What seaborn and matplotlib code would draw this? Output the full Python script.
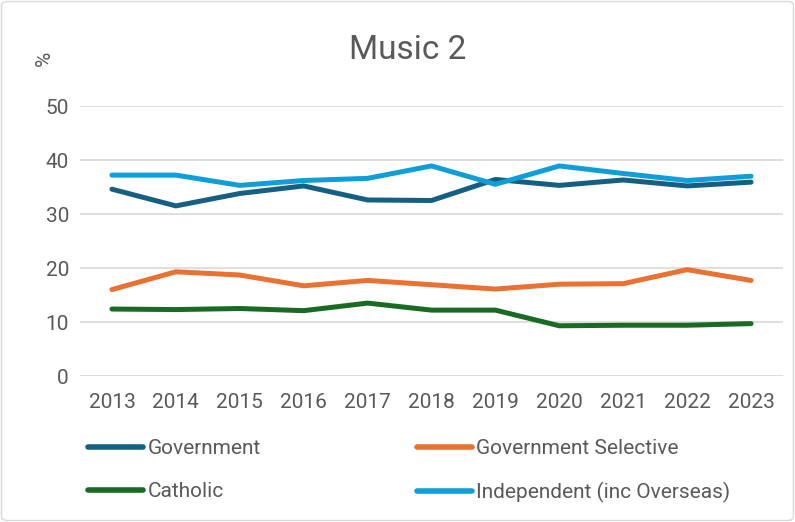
import matplotlib
matplotlib.use("Agg")
import matplotlib.pyplot as plt
from matplotlib.lines import Line2D
from matplotlib.patches import FancyBboxPatch
import seaborn as sns
import pandas as pd

years = ["2013", "2014", "2015", "2016", "2017", "2018", "2019", "2020", "2021", "2022", "2023"]
government = [34.6, 31.5, 33.8, 35.2, 32.6, 32.5, 36.4, 35.3, 36.3, 35.2, 35.9]
government_selective = [16.0, 19.3, 18.7, 16.7, 17.7, 16.9, 16.1, 17.0, 17.1, 19.7, 17.7]
catholic = [12.4, 12.3, 12.5, 12.1, 13.5, 12.2, 12.2, 9.3, 9.4, 9.4, 9.7]
independent = [37.2, 37.2, 35.3, 36.2, 36.6, 38.9, 35.5, 38.9, 37.5, 36.2, 37.0]

series_names = ["Government", "Government Selective", "Catholic", "Independent (inc Overseas)"]
series_values = [government, government_selective, catholic, independent]
colors = ["#156082", "#E97132", "#196B24", "#0F9ED5"]
y_ticks = [0, 10, 20, 30, 40, 50]

rows = []
for name, vals in zip(series_names, series_values):
    for i, (yr, v) in enumerate(zip(years, vals)):
        rows.append({"idx": i, "year": yr, "series": name, "value": v})
df = pd.DataFrame(rows)

sns.set_style("white")
plt.rcParams["font.family"] = ["Roboto", "DejaVu Sans"]
text_color = "#595959"
fs = 15

fig = plt.figure(figsize=(7.95, 5.22), dpi=100)
ax = fig.add_axes([80 / 795, 1 - 376 / 522, (783 - 80) / 795, (376 - 106) / 522])

sns.lineplot(data=df, x="idx", y="value", hue="series", hue_order=series_names,
             palette=dict(zip(series_names, colors)), linewidth=3.6, ax=ax,
             legend=False, solid_capstyle="round", solid_joinstyle="round")

ax.set_xlim(-0.5, len(years) - 0.5)
ax.set_ylim(0, 50)
ax.set_xticks(range(len(years)))
ax.set_xticklabels(years)
ax.set_yticks(y_ticks)
ax.set_xlabel("")
ax.set_ylabel("")
for s in ax.spines.values():
    s.set_visible(False)
ax.grid(axis="y", color="#D9D9D9", linewidth=1.2)
ax.set_axisbelow(True)
ax.tick_params(axis="x", length=0, pad=12, labelsize=fs, labelcolor=text_color)
ax.tick_params(axis="y", length=0, pad=8, labelsize=fs, labelcolor=text_color)

fig.text(408 / 795, 1 - 50 / 522, "Music 2", ha="center", va="center",
         fontsize=24, color=text_color)
fig.text(44 / 795, 1 - 58 / 522, "%", ha="center", va="center", rotation=90,
         fontsize=fs, color=text_color)

order = [0, 2, 1, 3]
handles = [Line2D([0], [0], color=colors[i], linewidth=4, solid_capstyle="round") for i in order]
labels = [series_names[i] for i in order]
fig.legend(handles, labels, ncol=2, loc="upper left",
           bbox_to_anchor=(88 / 795, 1 - 439 / 522), frameon=False,
           fontsize=fs, labelcolor=text_color, handlelength=2.65,
           handletextpad=0.2, columnspacing=7.5, labelspacing=1.15,
           borderaxespad=0, borderpad=0)

border = FancyBboxPatch((1.5 / 795, 1.5 / 522), 1 - 3 / 795, 1 - 3 / 522,
                        boxstyle="round,pad=0,rounding_size=0.008",
                        transform=fig.transFigure, fill=False,
                        edgecolor="#D9D9D9", linewidth=1)
fig.patches.append(border)

fig.savefig("out.png", dpi=100)
